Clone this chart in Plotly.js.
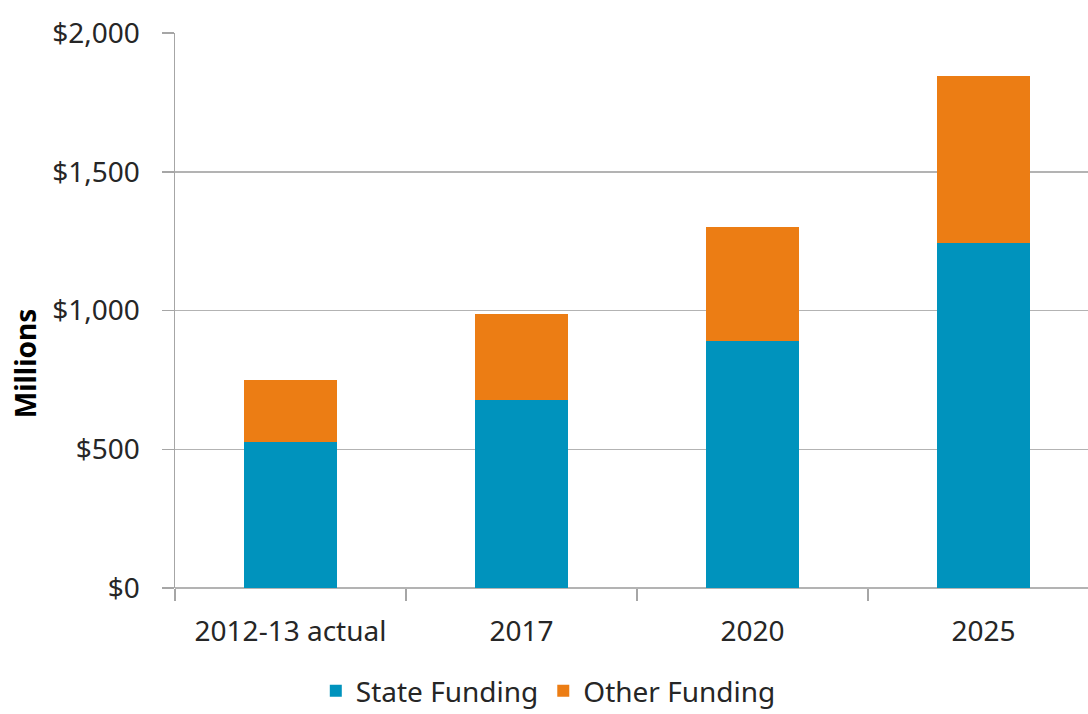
<!DOCTYPE html>
<html>
<head>
<meta charset="utf-8">
<script src="https://cdn.plot.ly/plotly-3.0.1.min.js"></script>
<style>
html,body{margin:0;padding:0;overflow:hidden;background:#fff;}
#chart{width:1110px;height:714px;}
</style>
</head>
<body>
<div id="chart"></div>
<script>
const categories = ["2012-13 actual", "2017", "2020", "2025"];
const stateFunding = [526, 677, 890, 1243];
const otherFunding = [224, 310, 411, 602];
const seriesNames = ["State Funding", "Other Funding"];
const yTitle = "Millions";

const font = "Noto Sans, Open Sans, sans-serif";
const data = [
  {type: "bar", name: seriesNames[0], x: categories, y: stateFunding,
   marker: {color: "#0093bd"}, hoverinfo: "x+y+name"},
  {type: "bar", name: seriesNames[1], x: categories, y: otherFunding,
   marker: {color: "#ec7d14"}, hoverinfo: "x+y+name"}
];
const layout = {
  width: 1110, height: 714,
  margin: {l: 175, r: 11, t: 33, b: 126, autoexpand: false},
  barmode: "stack",
  bargap: 0.6,
  paper_bgcolor: "#fff", plot_bgcolor: "#fff",
  font: {family: font, color: "#262626", size: 28},
  showlegend: true,
  legend: {orientation: "h", x: 0.404, xanchor: "center", yref: "container", y: 0.032, yanchor: "middle",
           font: {family: font, size: 28, color: "#262626"}, itemwidth: 30, traceorder: "normal"},
  xaxis: {
    type: "category", showgrid: false, showline: false, zeroline: false,
    ticks: "outside", tickson: "boundaries", ticklen: 12, tickcolor: "#a6a6a6", tickwidth: 1.5,
    ticklabelstandoff: 24,
    tickfont: {family: font, size: 28, color: "#262626"}
  },
  yaxis: {
    range: [0, 2000], dtick: 500, tickprefix: "$", tickformat: ",d",
    showgrid: true, gridcolor: "#b3b3b3", gridwidth: 1.5,
    showline: true, linecolor: "#a6a6a6", linewidth: 1.5,
    zeroline: true, zerolinecolor: "#b3b3b3", zerolinewidth: 1.5,
    ticks: "outside", ticklen: 12, tickcolor: "#a6a6a6", tickwidth: 1.5,
    ticklabelstandoff: 16,
    tickfont: {family: font, size: 28, color: "#262626"}
  },
  annotations: [{
    text: "<b>" + yTitle + "</b>", textangle: -90, showarrow: false,
    xref: "paper", yref: "paper", x: -0.1623, y: 0.405, xanchor: "center", yanchor: "middle",
    font: {family: font, size: 28, color: "#000"}
  }]
};
Plotly.newPlot("chart", data, layout, {displayModeBar: false, staticPlot: true});
</script>
</body>
</html>
